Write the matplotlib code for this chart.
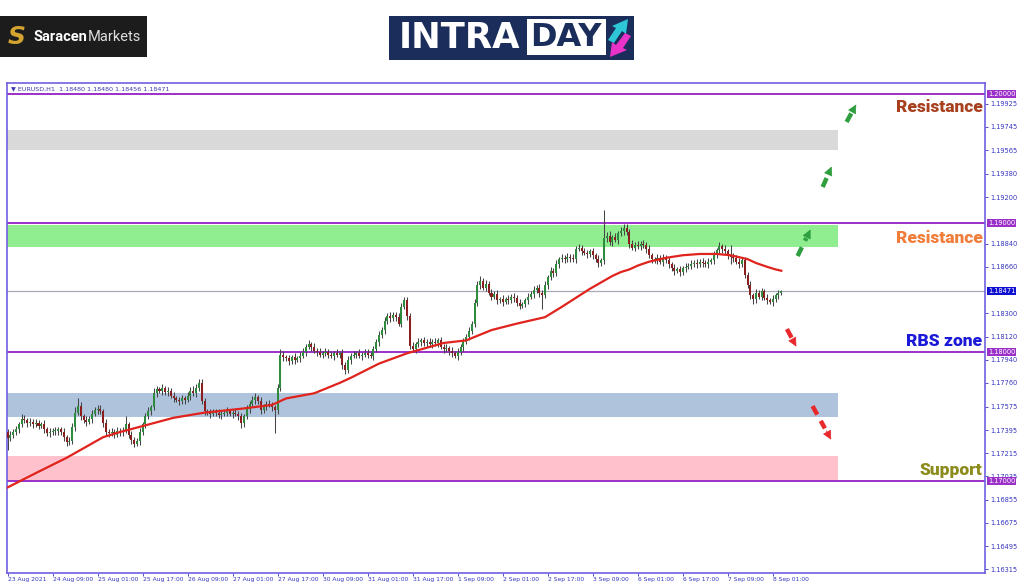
import numpy as np
import matplotlib
matplotlib.use("Agg")
from matplotlib import pyplot as plt
from matplotlib.patches import Rectangle, Polygon

# closes in pips above 1.17000, one per H1 bar
close_pips = [33, 36, 38, 40, 44, 48, 47, 45, 46, 44, 45, 43, 44, 40, 37, 38, 39, 39, 40, 38,
              34, 30, 31, 42, 53, 58, 50, 47, 46, 48, 52, 55, 56, 54, 45, 38, 37, 38, 36, 39,
              38, 39, 44, 36, 32, 29, 31, 38, 44, 50, 54, 57, 68, 71, 70, 72, 69, 70, 66, 64,
              63, 62, 64, 63, 66, 70, 68, 72, 76, 62, 54, 53, 52, 54, 53, 51, 52, 53, 54, 52,
              53, 52, 50, 45, 50, 56, 60, 63, 65, 62, 55, 58, 60, 59, 57, 55, 72, 98, 96, 95,
              93, 96, 94, 95, 97, 100, 104, 106, 104, 101, 100, 98, 99, 100, 98, 97, 99, 98, 99, 90,
              86, 94, 97, 98, 99, 97, 98, 99, 98, 97, 102, 108, 113, 117, 124, 128, 126, 129, 127, 122,
              135, 140, 128, 105, 102, 106, 108, 109, 107, 108, 106, 108, 107, 109, 104, 102, 103, 101, 99, 97,
              100, 104, 108, 112, 116, 122, 138, 152, 155, 150, 153, 146, 143, 145, 140, 141, 139, 141, 140, 143,
              142, 138, 136, 137, 140, 143, 145, 148, 150, 146, 144, 152, 158, 163, 161, 168, 172, 173, 172, 174,
              173, 172, 180, 181, 178, 177, 176, 178, 175, 172, 169, 171, 188, 190, 185, 189, 187, 192, 194, 196,
              193, 184, 181, 183, 182, 184, 183, 180, 175, 172, 171, 173, 170, 173, 171, 168, 165, 163, 164, 162,
              165, 166, 167, 168, 169, 168, 170, 169, 168, 170, 171, 175, 179, 182, 180, 178, 175, 174, 173, 170,
              168, 171, 160, 152, 144, 141, 146, 143, 147, 142, 140, 139, 141, 144, 146, 147.1]
first_open_pips = 38

up_wick = [2, 3, 2, 3, 2, 4, 3, 2, 3, 2, 3, 2, 2, 3, 2, 3, 2, 3, 2, 2, 3, 2, 3,
           3, 4, 6, 3, 2, 3, 2, 3, 2, 3, 3, 2, 3, 2, 3, 2, 3, 2, 3, 6, 2, 3, 2,
           2, 3, 2, 3, 3, 2, 4, 3, 2, 3, 2, 3, 2, 3, 2, 2, 3, 2, 3, 3, 4, 3, 3,
           3, 2, 2, 3, 2, 2, 3, 2, 2, 3, 2, 2, 3, 2, 3, 2, 3, 2, 3, 3, 2, 3, 2,
           2, 3, 2, 2, 3, 4, 3, 2, 3, 2, 3, 2, 3, 3, 2, 3, 2, 3, 2, 3, 2, 3, 2,
           3, 2, 3, 2, 3, 2, 3, 2, 3, 2, 3, 2, 3, 3, 2, 3, 2, 3, 2, 3, 2, 3, 2,
           2, 3, 3, 3, 3, 2, 3, 2, 3, 2, 3, 2, 3, 2, 3, 2, 3, 2, 3, 2, 3, 2, 3,
           2, 3, 2, 3, 2, 3, 3, 4, 2, 3, 2, 3, 2, 3, 2, 3, 2, 3, 2, 3, 2, 3, 2,
           2, 3, 2, 3, 2, 3, 2, 3, 2, 3, 2, 3, 2, 3, 2, 3, 2, 3, 2, 3, 2, 3, 2,
           2, 3, 2, 3, 2, 22, 3, 4, 2, 3, 2, 3, 3, 3, 2, 3, 2, 3, 2, 3, 2, 3, 2,
           2, 3, 2, 3, 2, 3, 2, 3, 2, 3, 2, 3, 2, 3, 2, 3, 2, 3, 2, 3, 2, 3, 2,
           3, 2, 3, 2, 8, 3, 2, 3, 2, 3, 2, 3, 2, 3, 2, 3, 2, 3, 2, 3, 2, 2, 1]
down_wick = [9, 2, 3, 2, 3, 2, 2, 3, 2, 3, 2, 3, 2, 3, 2, 3, 2, 3, 3, 2, 3, 3, 2,
             2, 3, 2, 3, 2, 3, 2, 3, 2, 3, 2, 3, 2, 3, 2, 3, 2, 3, 3, 2, 3, 3, 3,
             2, 3, 2, 3, 2, 3, 2, 3, 2, 3, 2, 3, 2, 3, 2, 3, 2, 3, 2, 3, 2, 3, 2,
             2, 3, 2, 3, 2, 3, 2, 3, 2, 3, 2, 3, 2, 3, 4, 3, 2, 3, 2, 3, 2, 3, 2,
             3, 2, 3, 18, 3, 2, 3, 2, 3, 2, 3, 2, 3, 2, 3, 2, 3, 2, 3, 2, 3, 2, 3,
             2, 3, 2, 3, 3, 3, 2, 3, 2, 3, 2, 3, 2, 3, 2, 3, 2, 3, 2, 3, 2, 3, 2,
             3, 2, 3, 2, 3, 3, 2, 3, 2, 3, 2, 3, 2, 3, 2, 3, 2, 3, 2, 3, 3, 2, 3,
             2, 3, 2, 3, 2, 3, 2, 3, 2, 3, 2, 3, 2, 3, 2, 3, 2, 3, 2, 3, 2, 3, 2,
             2, 3, 2, 3, 2, 3, 11, 2, 3, 2, 3, 2, 3, 2, 3, 2, 3, 2, 3, 2, 3, 2, 3,
             2, 3, 2, 3, 2, 3, 3, 2, 3, 2, 3, 2, 3, 2, 3, 2, 3, 2, 3, 2, 3, 2, 3,
             2, 3, 2, 3, 2, 3, 2, 3, 2, 3, 2, 3, 2, 3, 2, 3, 2, 3, 2, 3, 2, 3, 2,
             2, 3, 2, 3, 6, 3, 2, 3, 2, 3, 2, 3, 4, 3, 2, 3, 2, 3, 2, 3, 2, 3, 2]

# moving average (bar index, price)
ma_bar = [0, 9, 21, 34, 40, 47, 59, 70, 83, 94, 99, 109, 118, 122, 132, 142, 155, 163, 172,
          181, 191, 197, 202, 207, 211, 215, 218, 221, 224, 228, 234, 240, 246, 252, 257, 263,
          266, 270, 273, 275]
ma_price = [1.1695, 1.1705, 1.1718, 1.1734, 1.1738, 1.1742, 1.1749, 1.1753, 1.1756, 1.1759,
            1.1764, 1.1768, 1.1776, 1.1780, 1.1791, 1.1799, 1.1807, 1.1809, 1.1817, 1.1822,
            1.1827, 1.1835, 1.1842, 1.1849, 1.1854, 1.1859, 1.1862, 1.1864, 1.1867, 1.1870,
            1.1873, 1.1875, 1.1876, 1.1876, 1.1875, 1.1872, 1.1869, 1.1866, 1.1864, 1.1863]

time_labels = ["23 Aug 2021", "24 Aug 09:00", "25 Aug 01:00", "25 Aug 17:00", "26 Aug 09:00",
               "27 Aug 01:00", "27 Aug 17:00", "30 Aug 09:00", "31 Aug 01:00", "31 Aug 17:00",
               "1 Sep 09:00", "2 Sep 01:00", "2 Sep 17:00", "3 Sep 09:00", "6 Sep 01:00",
               "6 Sep 17:00", "7 Sep 09:00", "8 Sep 01:00"]
price_ticks = [1.19925, 1.19745, 1.19565, 1.19380, 1.19200, 1.18840, 1.18660, 1.18300, 1.18120,
               1.17940, 1.17760, 1.17575, 1.17395, 1.17215, 1.17035, 1.16855, 1.16675, 1.16495, 1.16315]
level_lines = [1.20000, 1.19000, 1.18000, 1.17000]
last_price = 1.18471

zones = [(1.19566, 1.19721, "#d9d9d9"), (1.18814, 1.18984, "#90ee90"),
         (1.17496, 1.17682, "#afc3dc"), (1.17008, 1.17194, "#ffc2cc")]
zone_end = 295

zone_labels = [("Resistance", 1.19899, "#a8401e"), ("Resistance", 1.18884, "#f07d3a"),
               ("RBS zone", 1.18085, "#1a1ad8"), ("Support", 1.17085, "#8c8c1c")]

closes = 1.17 + np.array(close_pips) / 10000
opens = np.concatenate([[1.17 + first_open_pips / 10000], closes[:-1]])
highs = np.maximum(opens, closes) + np.array(up_wick) / 10000
lows = np.minimum(opens, closes) - np.array(down_wick) / 10000
bars = np.arange(len(closes))

fig = plt.figure(figsize=(10.24, 5.87), dpi=100)
frame_col = "#7060e0"
tick_col = "#3535c0"

ax = fig.add_axes([7 / 1024, 14 / 587, 978 / 1024, 490 / 587])
ax.set_xlim(-0.2, 347.4)
ax.set_ylim(1.162868, 1.200853)

for lo, hi, col in zones:
    ax.add_patch(Rectangle((-1, lo), zone_end + 1, hi - lo, color=col, lw=0, zorder=1))

for lvl in level_lines:
    ax.axhline(lvl, color="#9a30c8", lw=1.4, zorder=2)
ax.axhline(last_price, color="#a8a8b8", lw=0.9, zorder=2)

# candles
up = closes >= opens
ax.vlines(bars, lows, highs, color="#454545", lw=0.75, zorder=3)
body = np.maximum(np.abs(closes - opens), 0.00003)
ax.bar(bars[up], body[up], bottom=opens[up], width=0.72, color="#2e8b3e", lw=0, zorder=4)
ax.bar(bars[~up], body[~up], bottom=closes[~up], width=0.72, color="#8b1e1e", lw=0, zorder=4)

ax.plot(ma_bar, ma_price, color="#e0231c", lw=1.6, zorder=5, solid_joinstyle="round")

# dashed projection arrows
arrows = [((280.8, 1.18744), (285.8, 1.18969), "#2e9e3e"),
          ((289.7, 1.19279), (293.3, 1.19457), "#2e9e3e"),
          ((298.2, 1.19783), (302.1, 1.19938), "#2e9e3e"),
          ((277.0, 1.18178), (280.8, 1.18023), "#e8282a"),
          ((286.1, 1.17581), (293.2, 1.17302), "#e8282a")]
for (x0, y0), (x1, y1), col in arrows:
    xm = x0 + (x1 - x0) * 0.62
    ym = y0 + (y1 - y0) * 0.62
    ax.plot([x0, xm], [y0, ym], color=col, lw=3.2, dashes=(2.2, 1.6), solid_capstyle="butt", zorder=6)
    ax.annotate("", xy=(x1, y1), xytext=(xm, ym),
                arrowprops=dict(arrowstyle="-|>", color=col, lw=0.5, mutation_scale=14), zorder=6)

for txt, y, col in zone_labels:
    ax.text(0.9975, y, txt, transform=ax.get_yaxis_transform(), ha="right", va="center",
            fontsize=12.5, fontweight=900, color=col, family="Roboto", zorder=7)

ax.text(0.004, 0.993, "\u25bc EURUSD,H1  1.18480 1.18480 1.18456 1.18471", transform=ax.transAxes,
        fontsize=4.6, color="#3a3ab0", va="top", ha="left")

# axes styling
for s in ax.spines.values():
    s.set_color(frame_col)
    s.set_linewidth(1.2)
ax.yaxis.tick_right()
ax.set_yticks(price_ticks)
ax.set_yticklabels([f"{v:.5f}" for v in price_ticks])
ax.tick_params(axis="y", labelsize=4.8, colors=tick_col, length=2, width=0.6, pad=1.5)
ax.set_xticks(np.arange(len(time_labels)) * 16)
ax.set_xticklabels(time_labels, ha="left")
ax.tick_params(axis="x", labelsize=4.3, colors=tick_col, length=2, width=0.6, pad=1)

for lvl in level_lines:
    ax.text(1.003, lvl, f"{lvl:.5f}", transform=ax.get_yaxis_transform(), ha="left", va="center",
            fontsize=4.8, color="white", clip_on=False,
            bbox=dict(boxstyle="square,pad=0.15", fc="#9a30c8", ec="none"))
ax.text(1.003, last_price, f"{last_price:.5f}", transform=ax.get_yaxis_transform(), ha="left",
        va="center", fontsize=4.8, color="white", clip_on=False,
        bbox=dict(boxstyle="square,pad=0.15", fc="#1010d0", ec="none"))

# Saracen logo
fig.patches.append(Rectangle((0, 1 - 57 / 587), 147 / 1024, 41 / 587, transform=fig.transFigure,
                             color="#1c1c1c", lw=0))
fig.text(17 / 1024, 1 - 37 / 587, "S", fontsize=18, fontweight="bold", fontstyle="italic",
         color="#d4a330", ha="center", va="center")
fig.text(34 / 1024, 1 - 37 / 587, "Saracen", fontsize=10.5, fontweight="bold", color="white",
         ha="left", va="center", family="Roboto")
fig.text(88 / 1024, 1 - 37 / 587, "Markets", fontsize=10.5, color="#dddddd",
         ha="left", va="center", family="Roboto")

# INTRADAY logo
fig.patches.append(Rectangle((389 / 1024, 1 - 60 / 587), 245 / 1024, 44 / 587,
                             transform=fig.transFigure, color="#1b2d5a", lw=0))
fig.text(399 / 1024, 1 - 38 / 587, "INTRA", fontsize=25.5, fontweight="bold", color="white",
         ha="left", va="center")
fig.patches.append(Rectangle((527 / 1024, 1 - 55 / 587), 79 / 1024, 36 / 587,
                             transform=fig.transFigure, color="white", lw=0))
fig.text(566 / 1024, 1 - 38 / 587, "DAY", fontsize=23, fontweight="bold", color="#1b2d5a",
         ha="center", va="center")
fig.patches.append(Polygon([(608 / 1024, 1 - 40 / 587), (616 / 1024, 1 - 28 / 587),
                            (612 / 1024, 1 - 26 / 587), (628 / 1024, 1 - 19 / 587),
                            (626 / 1024, 1 - 34 / 587), (622 / 1024, 1 - 31 / 587),
                            (614 / 1024, 1 - 43 / 587)], closed=True,
                           transform=fig.transFigure, color="#2cc6d6", lw=0))
fig.patches.append(Polygon([(631 / 1024, 1 - 36 / 587), (623 / 1024, 1 - 48 / 587),
                            (627 / 1024, 1 - 50 / 587), (610 / 1024, 1 - 57 / 587),
                            (612 / 1024, 1 - 42 / 587), (616 / 1024, 1 - 45 / 587),
                            (625 / 1024, 1 - 33 / 587)], closed=True,
                           transform=fig.transFigure, color="#e832c8", lw=0))

fig.savefig("out.png", dpi=100)
